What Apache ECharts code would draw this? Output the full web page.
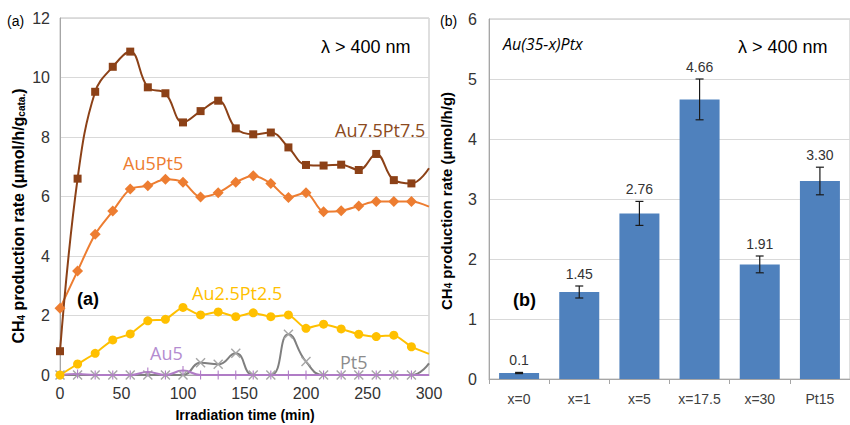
<!DOCTYPE html>
<html lang="en">
<head>
<meta charset="UTF-8">
<title>CH4 production rate</title>
<script src="https://cdn.jsdelivr.net/npm/echarts@6/dist/echarts.min.js"></script>
<style>
  html, body { margin: 0; padding: 0; background: #fff; }
  #main { width: 850px; height: 425px; }
</style>
</head>
<body>
<div id="main"></div>
<script>
// (a) irradiation time series
var times = [0, 14.3, 28.6, 42.9, 57.1, 71.4, 85.7, 100, 114.3, 128.6, 142.9, 157.1, 171.4, 185.7, 200, 214.3, 228.6, 242.9, 257.1, 271.4, 285.7, 300];
var au75pt75 = [0.8, 6.6, 9.52, 10.36, 10.87, 9.67, 9.47, 8.49, 8.87, 9.22, 8.29, 8.09, 8.15, 7.65, 7.06, 7.04, 7.07, 6.89, 7.43, 6.55, 6.44, 6.95];
var au5pt5 = [2.24, 3.5, 4.73, 5.51, 6.25, 6.36, 6.58, 6.48, 5.98, 6.13, 6.48, 6.7, 6.44, 5.97, 6.13, 5.49, 5.52, 5.68, 5.83, 5.83, 5.83, 5.66];
var au25pt25 = [0, 0.37, 0.73, 1.18, 1.38, 1.82, 1.87, 2.27, 2.02, 2.12, 1.96, 2.09, 1.96, 2.02, 1.57, 1.71, 1.55, 1.37, 1.29, 1.34, 0.95, 0.71];
var au5 = [0, 0.03, 0, 0, 0, 0.1, 0, 0.15, 0, 0, 0, 0, 0, 0, 0, 0, 0, 0, 0, 0, 0, 0];
var pt5 = [0, 0, 0, 0, 0, 0, 0, 0, 0.41, 0.36, 0.73, 0, 0, 1.37, 0.45, 0, 0, 0, 0, 0, 0, 0.39];

// (b) Au(35-x)Ptx bars
var cats = ['x=0', 'x=1', 'x=5', 'x=17.5', 'x=30', 'Pt15'];
var rates = [0.1, 1.45, 2.76, 4.66, 1.91, 3.30];
var errs = [0.01, 0.1, 0.2, 0.34, 0.14, 0.23];
var rateLabels = ['0.1', '1.45', '2.76', '4.66', '1.91', '3.30'];

var FONT = 'Liberation Sans, Arial, sans-serif';

// pairs for the value x axis, last point sits on the plot edge without marker
function pairs(vals) {
    var out = [];
    for (var i = 0; i < times.length; i++) {
        if (i == times.length - 1) {
            out.push({ value: [times[i], vals[i]], symbol: 'none' });
        } else {
            out.push([times[i], vals[i]]);
        }
    }
    return out;
}

var errData = [];
for (var i = 0; i < cats.length; i++) {
    errData.push([i, rates[i], errs[i]]);
}

var plusSym = 'path://M4.4,0 H5.6 V4.4 H10 V5.6 H5.6 V10 H4.4 V5.6 H0 V4.4 H4.4 Z';
var crossSym = 'path://M0,1 L1,0 L5,4 L9,0 L10,1 L6,5 L10,9 L9,10 L5,6 L1,10 L0,9 L4,5 Z';

var myChart = echarts.init(document.getElementById('main'), null, { renderer: 'svg' });

var ytitleRich = {
    b: { fontFamily: FONT, fontWeight: 'bold', fontSize: 16, fill: '#000' },
    s: { fontFamily: FONT, fontWeight: 'bold', fontSize: 10, fill: '#000', verticalAlign: 'bottom' }
};
var ytitleRich2 = {
    b: { fontFamily: FONT, fontWeight: 'bold', fontSize: 15, fill: '#000' },
    s: { fontFamily: FONT, fontWeight: 'bold', fontSize: 10, fill: '#000', verticalAlign: 'bottom' }
};

function txt(x, y, text, color, size, extra) {
    var st = {
        text: text, fill: color, fontSize: size, fontFamily: FONT,
        textAlign: 'left', textVerticalAlign: 'middle'
    };
    for (var k in (extra || {})) st[k] = extra[k];
    return { type: 'text', x: x, y: y, z: 100, style: st };
}

var option = {
    backgroundColor: '#fff',
    animation: false,
    grid: [
        { left: 60, top: 18, right: 421, bottom: 50, show: true, borderColor: '#bfbfbf', borderWidth: 1 },
        { left: 489, top: 19, right: -8, bottom: 46, show: true, borderColor: '#bfbfbf', borderWidth: 1 }
    ],
    xAxis: [
        {
            gridIndex: 0, type: 'value', min: 0, max: 300, interval: 50,
            axisLine: { lineStyle: { color: '#a6a6a6' } },
            axisTick: { show: false },
            axisLabel: { color: '#333', fontSize: 16, fontFamily: FONT, margin: 10 },
            splitLine: { show: false }
        },
        {
            gridIndex: 1, type: 'category', data: cats,
            axisLine: { lineStyle: { color: '#a6a6a6' } },
            axisTick: { show: true, length: 5, lineStyle: { color: '#a6a6a6' } },
            axisLabel: { color: '#404040', fontSize: 14, fontFamily: FONT, margin: 13 }
        }
    ],
    yAxis: [
        {
            gridIndex: 0, type: 'value', min: 0, max: 12, interval: 2,
            axisLine: { show: true, lineStyle: { color: '#a6a6a6' } },
            axisTick: { show: false },
            axisLabel: { color: '#333', fontSize: 16, fontFamily: FONT, margin: 10 },
            splitLine: { lineStyle: { color: '#d9d9d9' } }
        },
        {
            gridIndex: 1, type: 'value', min: 0, max: 6, interval: 1,
            axisLine: { show: true, lineStyle: { color: '#a6a6a6' } },
            axisTick: { show: false },
            axisLabel: { color: '#333', fontSize: 16, fontFamily: FONT, margin: 12 },
            splitLine: { lineStyle: { color: '#d9d9d9' } }
        }
    ],
    series: [
        {
            name: 'Pt5', type: 'line', xAxisIndex: 0, yAxisIndex: 0, data: pairs(pt5),
            smooth: 0.5, symbol: crossSym, symbolSize: 10,
            lineStyle: { color: '#7f7f7f', width: 2 },
            itemStyle: { color: '#a6a6a6' }
        },
        {
            name: 'Au5', type: 'line', xAxisIndex: 0, yAxisIndex: 0, data: pairs(au5),
            smooth: 0.5, symbol: plusSym, symbolSize: 9,
            lineStyle: { color: '#b07cc6', width: 2 },
            itemStyle: { color: '#b07cc6' }
        },
        {
            name: 'Au2.5Pt2.5', type: 'line', xAxisIndex: 0, yAxisIndex: 0, data: pairs(au25pt25),
            smooth: 0.2, symbol: 'circle', symbolSize: 9,
            lineStyle: { color: '#ffc000', width: 2 },
            itemStyle: { color: '#ffc000' }
        },
        {
            name: 'Au5Pt5', type: 'line', xAxisIndex: 0, yAxisIndex: 0, data: pairs(au5pt5),
            smooth: 0.3, symbol: 'diamond', symbolSize: 11,
            lineStyle: { color: '#ed7d31', width: 2 },
            itemStyle: { color: '#ed7d31' }
        },
        {
            name: 'Au7.5Pt7.5', type: 'line', xAxisIndex: 0, yAxisIndex: 0, data: pairs(au75pt75),
            smooth: 0.4, symbol: 'rect', symbolSize: 8,
            lineStyle: { color: '#8c4117', width: 2 },
            itemStyle: { color: '#8c4117' }
        },
        {
            name: 'rate', type: 'bar', xAxisIndex: 1, yAxisIndex: 1, data: rates,
            barWidth: 40, itemStyle: { color: '#4f81bd' }
        },
        {
            name: 'err', type: 'custom', xAxisIndex: 1, yAxisIndex: 1, data: errData, z: 10,
            renderItem: function (params, api) {
                var idx = api.value(0);
                var v = api.value(1);
                var e = api.value(2);
                var top = api.coord([idx, v + e]);
                var bot = api.coord([idx, v - e]);
                var w = 4;
                var ls = { stroke: '#1a1a1a', lineWidth: 1.2 };
                return {
                    type: 'group',
                    children: [
                        { type: 'line', shape: { x1: top[0], y1: top[1], x2: bot[0], y2: bot[1] }, style: ls },
                        { type: 'line', shape: { x1: top[0] - w, y1: top[1], x2: top[0] + w, y2: top[1] }, style: ls },
                        { type: 'line', shape: { x1: bot[0] - w, y1: bot[1], x2: bot[0] + w, y2: bot[1] }, style: ls },
                        {
                            type: 'text', x: top[0], y: top[1] - 5,
                            style: {
                                text: rateLabels[idx], fill: '#333', fontSize: 14, fontFamily: FONT,
                                textAlign: 'center', textVerticalAlign: 'bottom'
                            }
                        }
                    ]
                };
            }
        }
    ],
    graphic: [
        txt(7, 21, '(a)', '#000', 14),
        txt(440, 21, '(b)', '#000', 14),
        txt(321, 47, 'λ > 400 nm', '#000', 18),
        txt(738, 47, 'λ > 400 nm', '#000', 18),
        txt(503, 44, 'Au(35-x)Ptx', '#000', 16, { fontFamily: 'Open Sans, sans-serif', fontStyle: 'italic' }),
        txt(335, 130, 'Au7.5Pt7.5', '#8c4a20', 18, { fontFamily: 'Open Sans, sans-serif' }),
        txt(123, 163, 'Au5Pt5', '#ed7d31', 18, { fontFamily: 'Open Sans, sans-serif' }),
        txt(192, 293, 'Au2.5Pt2.5', '#ffc000', 18, { fontFamily: 'Open Sans, sans-serif' }),
        txt(150, 353, 'Au5', '#b48cd0', 18, { fontFamily: 'Open Sans, sans-serif' }),
        txt(340, 362, 'Pt5', '#8c8c8c', 18, { fontFamily: 'Open Sans, sans-serif' }),
        txt(77, 299, '(a)', '#000', 18, { fontWeight: 'bold' }),
        txt(513, 300, '(b)', '#000', 18, { fontWeight: 'bold' }),
        txt(245, 415, 'Irradiation time (min)', '#000', 14, { fontWeight: 'bold', textAlign: 'center' }),
        {
            type: 'text', x: 18, y: 216, rotation: Math.PI / 2, z: 100,
            style: {
                text: '{b|CH}{s|4}{b| production rate (μmol/h/g}{s|cata.}{b|)}',
                rich: ytitleRich, textAlign: 'center', textVerticalAlign: 'middle'
            }
        },
        {
            type: 'text', x: 446, y: 201, rotation: Math.PI / 2, z: 100,
            style: {
                text: '{b|CH}{s|4}{b| production rate (μmol/h/g)}',
                rich: ytitleRich2, textAlign: 'center', textVerticalAlign: 'middle'
            }
        }
    ]
};

myChart.setOption(option);
</script>
</body>
</html>
